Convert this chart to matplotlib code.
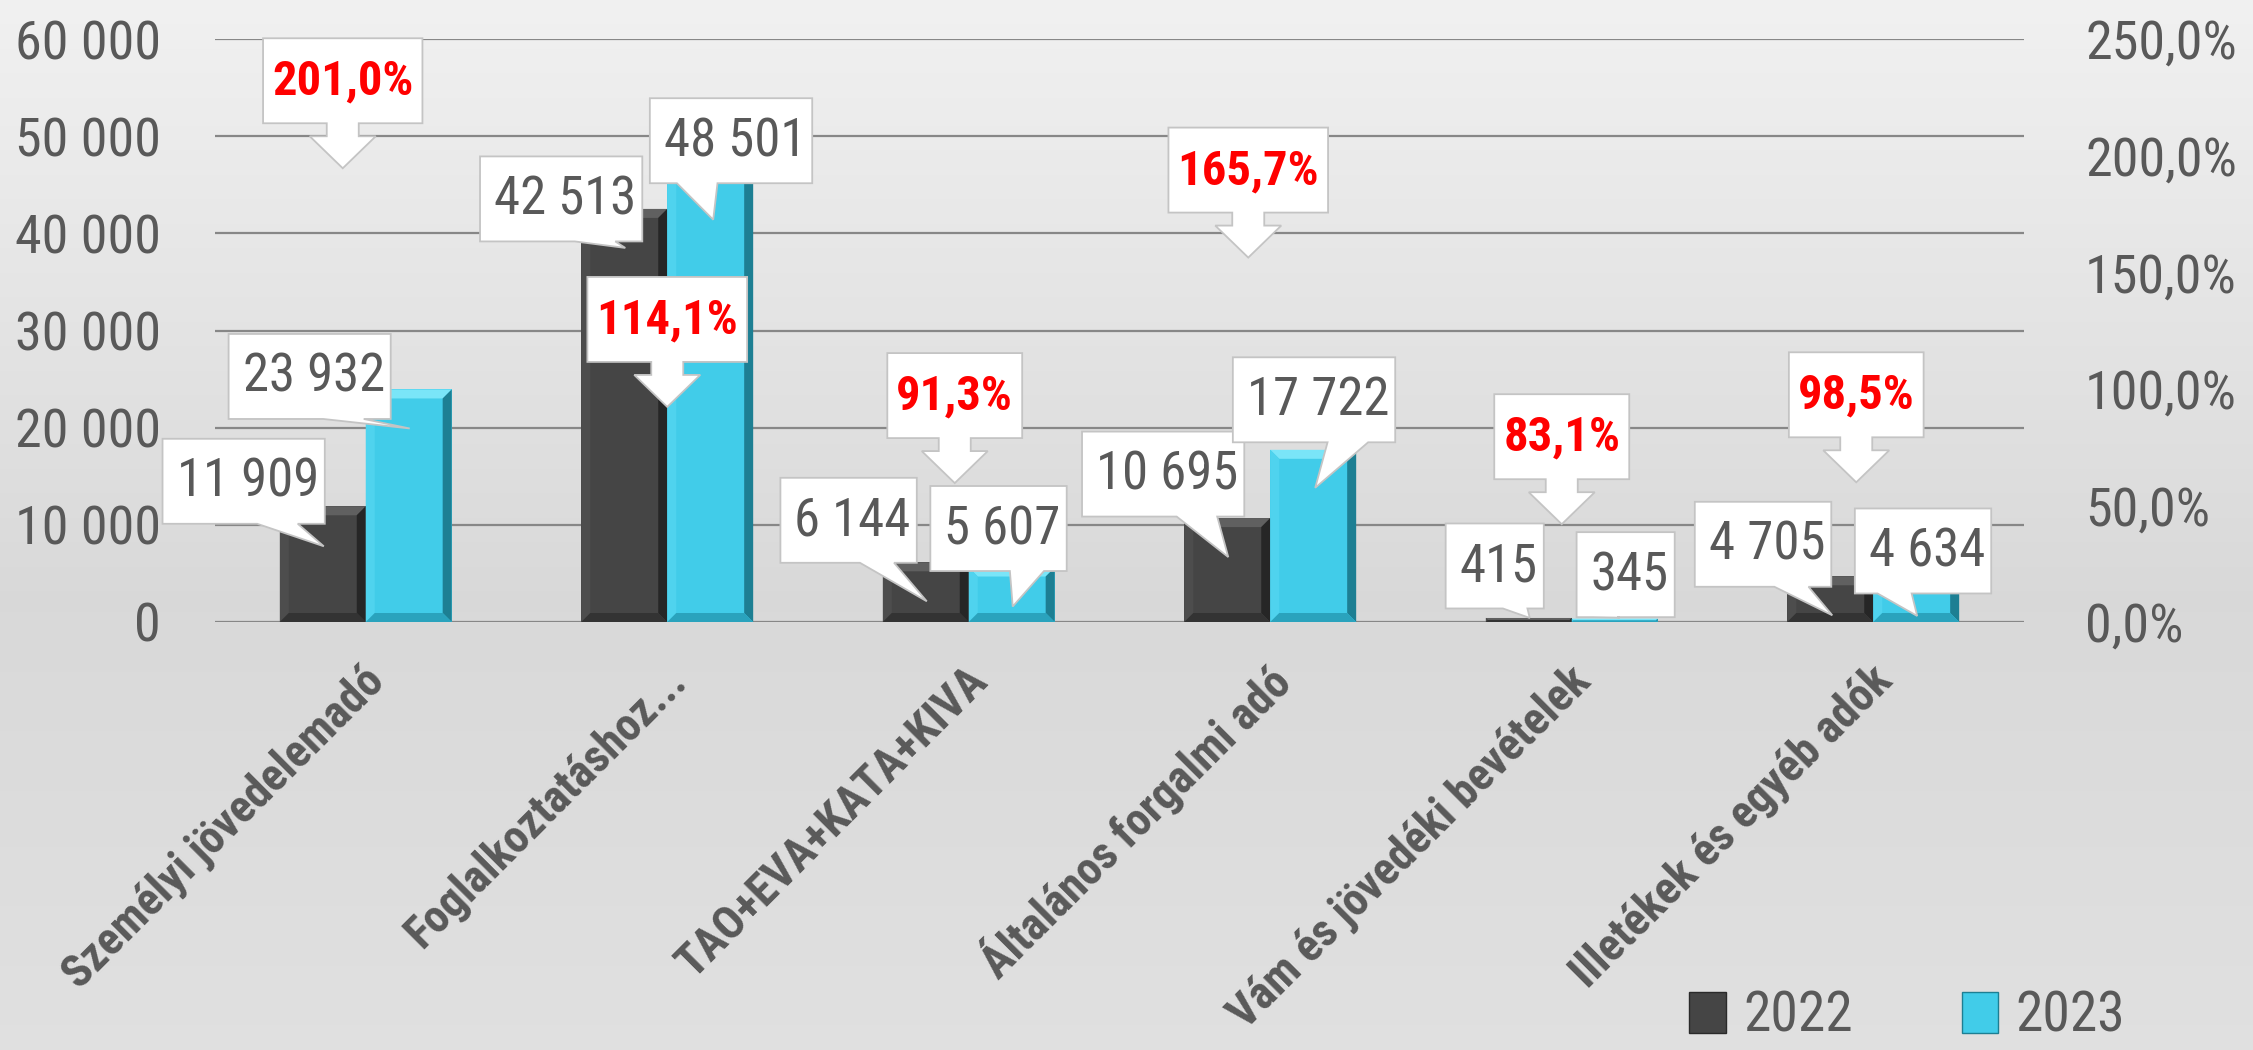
import matplotlib
matplotlib.use("Agg")
import matplotlib.pyplot as plt
import numpy as np
from matplotlib.patches import Polygon, Patch
from matplotlib.transforms import IdentityTransform
from matplotlib.ticker import FuncFormatter, MultipleLocator

plt.rcParams['font.family'] = ['Roboto Condensed', 'DejaVu Sans Condensed', 'Roboto', 'DejaVu Sans']

# data
categories = ["Személyi jövedelemadó", "Foglalkoztatáshoz...", "TAO+EVA+KATA+KIVA",
              "Általános forgalmi adó", "Vám és jövedéki bevételek", "Illetékek és egyéb adók"]
values_2022 = [11909, 42513, 6144, 10695, 415, 4705]
values_2023 = [23932, 48501, 5607, 17722, 345, 4634]
ratio_pct = [201.0, 114.1, 91.3, 165.7, 83.1, 98.5]
series_names = ["2022", "2023"]

# label placement in pixels (y downwards), relative to the bar top:
# (box right edge dx, box centre dy) and arrow tip (dx, dy)
box_off_2022 = [(2, -25), (18, -10), (-9, -42), (17, -44), (15, -52), (1, -32)]
tip_off_2022 = [(1, 40), (1, 39), (1, 39), (1, 39), (1, 0), (2, 39)]
box_off_2023 = [(-18, -13), (102, -10), (55, -39), (82, -50), (60, -44), (75, -26)]
tip_off_2023 = [(1, 39), (3, 69), (1, 39), (2, 38), (5, -1), (1, 39)]
# tip of the percentage arrows relative to the ratio value on the right axis
pct_tip_off = [(-23, 15), (0, 51), (-14, 74), (-22, 22), (-10, 96), (-17, 90)]

GRAY = '#595959'
DARK = '#454545'
CYAN = '#41CCE9'

W, H = 2253, 1050
fig = plt.figure(figsize=(W / 100, H / 100), dpi=100)

# background gradient
bg = fig.add_axes([0, 0, 1, 1], zorder=-10)
yy = np.linspace(0, 1, 300)
stops = [(0.0, 0.945), (0.57, 0.85), (1.0, 0.88)]
vals = np.interp(yy, [s[0] for s in stops], [s[1] for s in stops])
grad = np.repeat(vals[:, None], 2, axis=1)
bg.imshow(np.dstack([grad, grad, grad]), aspect='auto', extent=[0, 1, 1, 0])
bg.set_xlim(0, 1)
bg.set_ylim(1, 0)
bg.axis('off')

left, right, top, bottom = 215, 2024, 39, 622
ax = fig.add_axes([left / W, 1 - bottom / H, (right - left) / W, (bottom - top) / H])
ax.patch.set_alpha(0)
x = np.arange(len(categories))
bw = 0.285
bars1 = ax.bar(x - bw / 2, values_2022, bw, color=DARK, zorder=2)
bars2 = ax.bar(x + bw / 2, values_2023, bw, color=CYAN, zorder=2)
ax.set_xlim(-0.5, len(categories) - 0.5)
ax.set_ylim(0, 60000)
ax.yaxis.set_major_locator(MultipleLocator(10000))
ax.yaxis.set_major_formatter(FuncFormatter(lambda v, _: f"{int(v):,}".replace(",", " ")))
ax.grid(axis='y', color='#878787', lw=1.6, zorder=0)
ax.set_axisbelow(True)
ax.set_xticks([])
ax.tick_params(axis='y', length=0, pad=39, labelsize=39, labelcolor=GRAY)
for s in ax.spines.values():
    s.set_visible(False)

ax2 = ax.twinx()
ax2.set_ylim(0, 250)
ax2.yaxis.set_major_locator(MultipleLocator(50))
ax2.yaxis.set_major_formatter(FuncFormatter(lambda v, _: f"{v:.1f}%".replace(".", ",")))
ax2.tick_params(axis='y', length=0, pad=44, labelsize=39, labelcolor=GRAY)
for s in ax2.spines.values():
    s.set_visible(False)

idt = IdentityTransform()


def bevel(bar, light, dark, side, bottom_c):
    x0, y0 = ax.transData.transform((bar.get_x(), 0))
    x1, y1 = ax.transData.transform((bar.get_x() + bar.get_width(), bar.get_height()))
    b = min(9, (y1 - y0) / 2, (x1 - x0) / 2)
    polys = [
        ([(x0, y1), (x1, y1), (x1 - b, y1 - b), (x0 + b, y1 - b)], light),
        ([(x1, y1), (x1, y0), (x1 - b, y0 + b), (x1 - b, y1 - b)], dark),
        ([(x0, y1), (x0 + b, y1 - b), (x0 + b, y0 + b), (x0, y0)], side),
        ([(x0, y0), (x0 + b, y0 + b), (x1 - b, y0 + b), (x1, y0)], bottom_c),
    ]
    for pts, c in polys:
        ax.add_patch(Polygon(pts, closed=True, transform=idt, facecolor=c,
                             edgecolor='none', zorder=3, clip_on=False))


for b in bars1:
    bevel(b, '#606060', '#262626', '#4d4d4d', '#333333')
for b in bars2:
    bevel(b, '#7ae5f8', '#1d7f93', '#4fd3ee', '#2aa3bd')

renderer = fig.canvas.get_renderer()
BOX_H = 85


def value_callout(xv, yv, text, box_off, tip_off):
    px, py = ax.transData.transform((xv, yv))
    R, cy = px + box_off[0], py - box_off[1]
    tx, ty = px + tip_off[0], py - tip_off[1]
    t = ax2.text(R - 6, cy - 1, text, transform=idt, fontsize=38, color=GRAY,
                 ha='right', va='center', zorder=8, clip_on=False)
    tw = t.get_window_extent(renderer).width
    w = tw + 20
    L = R - w
    cx = (L + R) / 2
    T, B = cy + BOX_H / 2, cy - BOX_H / 2
    if tx > cx:
        b1, b2 = L + 7 * w / 12, L + 10 * w / 12
    else:
        b1, b2 = L + 2 * w / 12, L + 5 * w / 12
    pts = [(L, T), (R, T), (R, B), (b2, B), (tx, ty), (b1, B), (L, B)]
    ax2.add_patch(Polygon(pts, closed=True, transform=idt, facecolor='white',
                          edgecolor='#c4c4c4', lw=1.3, zorder=7, clip_on=False))


def pct_callout(xv, pv, text, tip_off):
    px, py = ax2.transData.transform((xv, pv))
    tx, ty = px + tip_off[0], py - tip_off[1]
    B = ty + 45
    T = B + BOX_H
    cx = tx
    t = ax2.text(cx, (T + B) / 2 - 1, text, transform=idt, fontsize=35, color='#FF0000',
                 fontweight='bold', ha='center', va='center', zorder=10, clip_on=False)
    tw = t.get_window_extent(renderer).width
    w = tw + 18
    L, R = cx - w / 2, cx + w / 2
    pts = [(L, T), (R, T), (R, B), (cx + 16, B), (cx + 16, B - 13), (cx + 33, B - 13),
           (cx, ty), (cx - 33, B - 13), (cx - 16, B - 13), (cx - 16, B), (L, B)]
    ax2.add_patch(Polygon(pts, closed=True, transform=idt, facecolor='white',
                          edgecolor='#c4c4c4', lw=1.3, zorder=9, clip_on=False))


def fmt(v):
    return f"{v:,}".replace(",", " ")


for i in range(len(categories)):
    value_callout(x[i] - bw / 2, values_2022[i], fmt(values_2022[i]), box_off_2022[i], tip_off_2022[i])
    value_callout(x[i] + bw / 2, values_2023[i], fmt(values_2023[i]), box_off_2023[i], tip_off_2023[i])
for i in range(len(categories)):
    pct_callout(x[i], ratio_pct[i], f"{ratio_pct[i]:.1f}%".replace(".", ","), pct_tip_off[i])

# category labels
for i, lab in enumerate(categories):
    ax.annotate(lab, xy=(x[i], 0), xycoords=('data', 'axes fraction'),
                xytext=(12, -52), textcoords='offset pixels', rotation=45,
                rotation_mode='anchor', ha='right', va='center',
                fontsize=33, fontweight='bold', color=GRAY, annotation_clip=False)

handles = [Patch(facecolor=DARK, edgecolor='#2a2a2a'), Patch(facecolor=CYAN, edgecolor='#1d7f93')]
fig.legend(handles, series_names, loc='center', bbox_to_anchor=(0.8466, 0.032), ncol=2,
           frameon=False, fontsize=40, labelcolor=GRAY, handlelength=0.65, handleheight=0.74,
           handletextpad=0.32, columnspacing=1.96)

fig.savefig("out.png", dpi=100)
